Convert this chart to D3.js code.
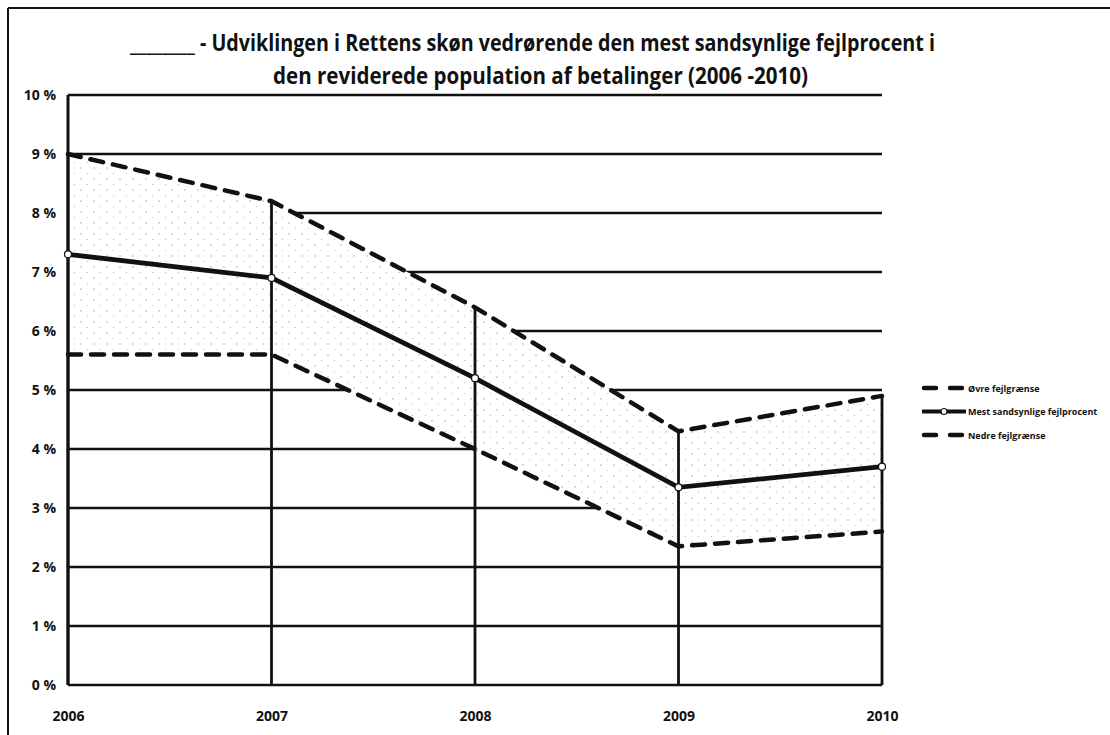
<!DOCTYPE html>
<html>
<head>
<meta charset="utf-8">
<script src="https://cdn.jsdelivr.net/npm/d3@7"></script>
<style>
  html, body { margin: 0; padding: 0; background: #fff; }
  svg { display: block; font-family: "Open Sans", "DejaVu Sans", sans-serif; }
</style>
</head>
<body>
<div id="chart"></div>
<script>
// data (percent)
const years = ["2006", "2007", "2008", "2009", "2010"];
const upperLimit = [9.0, 8.2, 6.4, 4.3, 4.9];    // Øvre fejlgrænse
const mostLikely = [7.3, 6.9, 5.2, 3.35, 3.7];   // Mest sandsynlige fejlprocent
const lowerLimit = [5.6, 5.6, 4.0, 2.35, 2.6];   // Nedre fejlgrænse
const yTicks = [0, 1, 2, 3, 4, 5, 6, 7, 8, 9, 10];
const legendLabels = ["Øvre fejlgrænse", "Mest sandsynlige fejlprocent", "Nedre fejlgrænse"];

function drawChart() {
    const width = 1110, height = 735;
    const svg = d3.select("#chart").append("svg")
        .attr("width", width).attr("height", height);

    const x = d3.scalePoint().domain(years).range([68, 882]);
    const y = d3.scaleLinear().domain([0, 10]).range([685, 95]);

    // dotted fill for the band
    const defs = svg.append("defs");
    const pat = defs.append("pattern").attr("id", "dots")
        .attr("patternUnits", "userSpaceOnUse").attr("width", 13).attr("height", 11);
    pat.append("rect").attr("width", 13).attr("height", 11).attr("fill", "#fff");
    pat.append("circle").attr("cx", 3).attr("cy", 3).attr("r", 0.7).attr("fill", "#9a9a9a");
    pat.append("circle").attr("cx", 9.5).attr("cy", 8.5).attr("r", 0.6).attr("fill", "#b0b0b0");

    // page frame (scan edges)
    svg.append("line").attr("x1", 8).attr("x2", width).attr("y1", 8).attr("y2", 8)
        .attr("stroke", "#111").attr("stroke-width", 2);
    svg.append("line").attr("x1", 8).attr("x2", 8).attr("y1", 8).attr("y2", height)
        .attr("stroke", "#111").attr("stroke-width", 2);

    // title (condensed face in the scan, so squeeze to its width)
    const titleLines = [
        { text: "________ - Udviklingen i Rettens skøn vedrørende den mest sandsynlige fejlprocent i", x: 130, y: 51, w: 805 },
        { text: "den reviderede population af betalinger (2006 -2010)", x: 273, y: 84, w: 535 }
    ];
    svg.append("g").selectAll("text").data(titleLines).join("text")
        .attr("x", d => d.x).attr("y", d => d.y)
        .attr("textLength", d => d.w).attr("lengthAdjust", "spacingAndGlyphs")
        .attr("font-weight", "bold").attr("font-size", 23).attr("fill", "#111")
        .text(d => d.text);

    // horizontal gridlines
    svg.append("g").selectAll("line").data(yTicks).join("line")
        .attr("x1", x(years[0])).attr("x2", x(years[years.length - 1]))
        .attr("y1", d => y(d)).attr("y2", d => y(d))
        .attr("stroke", "#111").attr("stroke-width", 2.4);

    // y axis labels
    svg.append("g").attr("transform", `translate(${x(years[0])},0)`)
        .call(d3.axisLeft(y).tickValues(yTicks).tickFormat(d => d + " %").tickSize(0).tickPadding(12))
        .call(g => g.select(".domain").remove())
        .call(g => g.selectAll("text").attr("font-size", 14).attr("font-weight", "bold")
            .attr("fill", "#111").attr("font-family", "Open Sans, sans-serif"));

    // x axis labels
    svg.append("g").attr("transform", `translate(0,${y(0)})`)
        .call(d3.axisBottom(x).tickSize(0).tickPadding(26))
        .call(g => g.select(".domain").remove())
        .call(g => g.selectAll("text").attr("font-size", 14).attr("font-weight", "bold")
            .attr("fill", "#111").attr("font-family", "Open Sans, sans-serif"));

    const rows = years.map((yr, i) => ({ yr, up: upperLimit[i], mid: mostLikely[i], lo: lowerLimit[i] }));

    // band between lower and upper limits hides the gridlines
    svg.append("path").datum(rows)
        .attr("d", d3.area().x(d => x(d.yr)).y0(d => y(d.lo)).y1(d => y(d.up)))
        .attr("fill", "url(#dots)");

    // left axis + drop lines from upper limit
    svg.append("line").attr("x1", x(years[0])).attr("x2", x(years[0]))
        .attr("y1", y(10)).attr("y2", y(0)).attr("stroke", "#111").attr("stroke-width", 3);
    svg.append("g").selectAll("line").data(rows).join("line")
        .attr("x1", d => x(d.yr)).attr("x2", d => x(d.yr))
        .attr("y1", d => y(d.up)).attr("y2", y(0))
        .attr("stroke", "#111").attr("stroke-width", 2.8);

    const line = key => d3.line().x(d => x(d.yr)).y(d => y(d[key]));

    svg.append("path").datum(rows).attr("d", line("up"))
        .attr("fill", "none").attr("stroke", "#111").attr("stroke-width", 4.5)
        .attr("stroke-dasharray", "13 10").attr("stroke-linecap", "round");
    svg.append("path").datum(rows).attr("d", line("lo"))
        .attr("fill", "none").attr("stroke", "#111").attr("stroke-width", 4.5)
        .attr("stroke-dasharray", "13 10").attr("stroke-linecap", "round");
    svg.append("path").datum(rows).attr("d", line("mid"))
        .attr("fill", "none").attr("stroke", "#111").attr("stroke-width", 4.8);

    svg.append("g").selectAll("circle").data(rows).join("circle")
        .attr("cx", d => x(d.yr)).attr("cy", d => y(d.mid)).attr("r", 3.5)
        .attr("fill", "#fff").attr("stroke", "#111").attr("stroke-width", 1.2);

    // legend
    const lg = svg.append("g").attr("transform", "translate(922,388)");
    legendLabels.forEach((lab, i) => {
        const row = lg.append("g").attr("transform", `translate(0,${i * 23.5})`);
        if (i === 1) {
            row.append("line").attr("x1", 0).attr("x2", 44).attr("stroke", "#111").attr("stroke-width", 4);
            row.append("circle").attr("cx", 22).attr("r", 3).attr("fill", "#fff")
                .attr("stroke", "#111").attr("stroke-width", 1.2);
        } else {
            row.append("line").attr("x1", 2).attr("x2", 42).attr("stroke", "#111").attr("stroke-width", 4.5)
                .attr("stroke-dasharray", "12 14").attr("stroke-linecap", "round");
        }
        row.append("text").attr("x", 46).attr("y", 3.5).attr("font-size", 9).attr("font-weight", "bold")
            .attr("fill", "#111").text(lab);
    });
}

drawChart();
</script>
</body>
</html>
